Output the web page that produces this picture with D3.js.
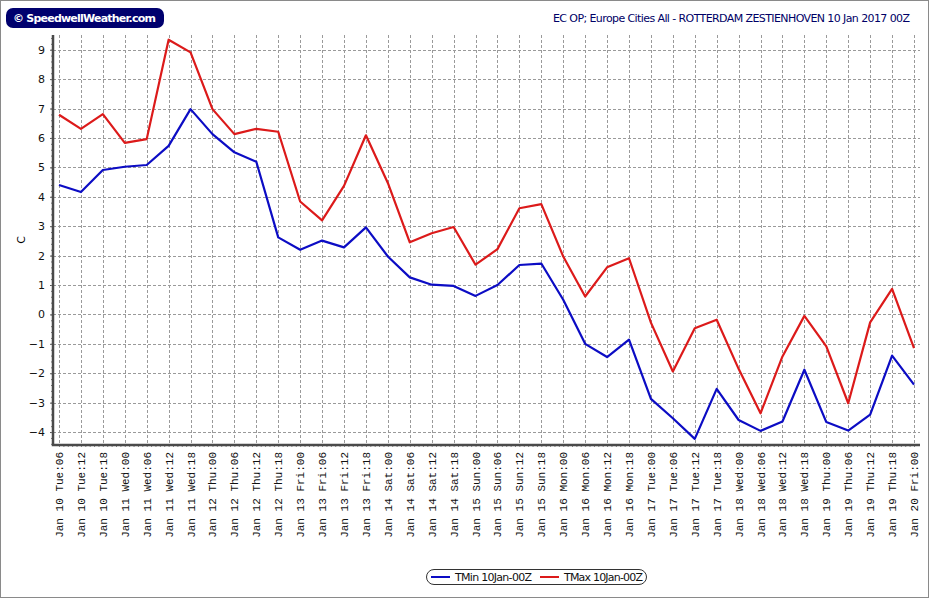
<!DOCTYPE html>
<html>
<head>
<meta charset="utf-8">
<script src="https://cdn.jsdelivr.net/npm/d3@7"></script>
<style>
    body { margin: 0; background: #fff; }
    #chart svg { display: block; }
</style>
</head>
<body>
<div id="chart"></div>
<script>
const times = [
    "Jan 10 Tue:06", "Jan 10 Tue:12", "Jan 10 Tue:18", "Jan 11 Wed:00", "Jan 11 Wed:06",
    "Jan 11 Wed:12", "Jan 11 Wed:18", "Jan 12 Thu:00", "Jan 12 Thu:06", "Jan 12 Thu:12",
    "Jan 12 Thu:18", "Jan 13 Fri:00", "Jan 13 Fri:06", "Jan 13 Fri:12", "Jan 13 Fri:18",
    "Jan 14 Sat:00", "Jan 14 Sat:06", "Jan 14 Sat:12", "Jan 14 Sat:18", "Jan 15 Sun:00",
    "Jan 15 Sun:06", "Jan 15 Sun:12", "Jan 15 Sun:18", "Jan 16 Mon:00", "Jan 16 Mon:06",
    "Jan 16 Mon:12", "Jan 16 Mon:18", "Jan 17 Tue:00", "Jan 17 Tue:06", "Jan 17 Tue:12",
    "Jan 17 Tue:18", "Jan 18 Wed:00", "Jan 18 Wed:06", "Jan 18 Wed:12", "Jan 18 Wed:18",
    "Jan 19 Thu:00", "Jan 19 Thu:06", "Jan 19 Thu:12", "Jan 19 Thu:18", "Jan 20 Fri:00"
];
const tMin = [
    4.40, 4.16, 4.91, 5.02, 5.08, 5.73, 6.98, 6.13, 5.51, 5.19,
    2.62, 2.20, 2.51, 2.28, 2.96, 1.97, 1.26, 1.01, 0.97, 0.63,
    1.00, 1.68, 1.73, 0.50, -1.00, -1.45, -0.86, -2.87, -3.53, -4.23,
    -2.53, -3.59, -3.96, -3.64, -1.88, -3.66, -3.95, -3.41, -1.40, -2.39
];
const tMax = [
    6.79, 6.31, 6.81, 5.83, 5.96, 9.34, 8.91, 6.98, 6.13, 6.31,
    6.21, 3.84, 3.20, 4.37, 6.09, 4.47, 2.45, 2.76, 2.97, 1.69,
    2.22, 3.61, 3.75, 1.97, 0.61, 1.60, 1.91, -0.28, -1.94, -0.47,
    -0.18, -1.85, -3.36, -1.43, -0.05, -1.09, -3.02, -0.27, 0.87, -1.15
];
const yTicks = [9, 8, 7, 6, 5, 4, 3, 2, 1, 0, -1, -2, -3, -4];
const seriesNames = ["TMin 10Jan-00Z", "TMax 10Jan-00Z"];
const titleText = "EC OP; Europe Cities All - ROTTERDAM ZESTIENHOVEN 10 Jan 2017 00Z";
const logoText = "\u00a9 SpeedwellWeather.com";

document.addEventListener("DOMContentLoaded", setup);

function setup() {
    const width = 930;
    const height = 600;
    const plot = { left: 53, right: 920, top: 35, bottom: 445 };
    const colors = ["#0c0cc4", "#dc1a1a"];

    const svg = d3.select("#chart").append("svg")
        .attr("width", width)
        .attr("height", height);

    // outer frame
    svg.append("rect")
        .attr("x", 0.5).attr("y", 0.5)
        .attr("width", width - 2).attr("height", 597)
        .attr("fill", "#fff")
        .attr("stroke", "#8a8a8a");

    const x = d3.scaleLinear()
        .domain([0, times.length - 1])
        .range([59, 914]);
    const y = d3.scaleLinear()
        .domain([-4.44, 9.5])
        .range([plot.bottom, plot.top]);

    // grid
    svg.append("g")
        .selectAll("line")
        .data(times)
        .enter()
        .append("line")
        .attr("x1", (d, i) => Math.round(x(i)) + 0.5)
        .attr("x2", (d, i) => Math.round(x(i)) + 0.5)
        .attr("y1", plot.top)
        .attr("y2", plot.bottom)
        .attr("stroke", "#9a9a9a")
        .attr("stroke-dasharray", "3,2");
    svg.append("g")
        .selectAll("line")
        .data(yTicks)
        .enter()
        .append("line")
        .attr("x1", plot.left)
        .attr("x2", plot.right)
        .attr("y1", d => Math.round(y(d)) + 0.5)
        .attr("y2", d => Math.round(y(d)) + 0.5)
        .attr("stroke", "#9a9a9a")
        .attr("stroke-dasharray", "3,2");

    // series
    const line = d3.line()
        .x((d, i) => x(i))
        .y(d => y(d));
    [tMin, tMax].forEach((s, k) => {
        svg.append("path")
            .datum(s)
            .attr("d", line)
            .attr("fill", "none")
            .attr("stroke", colors[k])
            .attr("stroke-width", 2.2)
            .attr("stroke-linejoin", "round");
    });

    // y axis
    const yAxis = svg.append("g")
        .attr("transform", `translate(${plot.left},0)`)
        .call(d3.axisLeft(y).tickValues(yTicks).tickSize(3).tickPadding(5).tickFormat(d3.format("d")));
    yAxis.select(".domain").remove();
    yAxis.selectAll("line").attr("stroke", "#555");
    yAxis.selectAll("text")
        .attr("font-family", "Tahoma, 'DejaVu Sans', sans-serif")
        .attr("font-size", 11)
        .attr("fill", "#111");
    svg.append("g")
        .attr("transform", `translate(${plot.left},0)`)
        .call(d3.axisLeft(y).ticks(70).tickSize(2).tickFormat(""))
        .call(g => g.select(".domain").remove())
        .selectAll("line").attr("stroke", "#777");

    // x axis
    const xAxis = svg.append("g")
        .attr("transform", `translate(0,${plot.bottom})`)
        .call(d3.axisBottom(x).tickValues(d3.range(0, times.length - 0.9, 0.2)).tickSize(2).tickFormat(""));
    xAxis.select(".domain").remove();
    xAxis.selectAll("line").attr("stroke", "#888");

    svg.append("g")
        .selectAll("text")
        .data(times)
        .enter()
        .append("text")
        .attr("transform", (d, i) => `translate(${x(i) + 4},452) rotate(-90)`)
        .attr("text-anchor", "end")
        .attr("font-family", "'Liberation Mono', 'Courier New', monospace")
        .attr("font-size", 11)
        .attr("fill", "#111")
        .text(d => d);

    // axis lines
    svg.append("path")
        .attr("d", `M${plot.left},${plot.top} V${plot.bottom} H${plot.right}`)
        .attr("fill", "none")
        .attr("stroke", "#4a4a4a")
        .attr("stroke-width", 2.5);

    svg.append("text")
        .attr("transform", "translate(25,240) rotate(-90)")
        .attr("text-anchor", "middle")
        .attr("font-family", "Tahoma, 'DejaVu Sans', sans-serif")
        .attr("font-size", 11)
        .text("C");

    // title + logo
    svg.append("text")
        .attr("x", 910).attr("y", 22)
        .attr("text-anchor", "end")
        .attr("font-family", "Tahoma, 'DejaVu Sans', sans-serif")
        .attr("font-size", 11)
        .attr("textLength", 357)
        .attr("fill", "#000066")
        .text(titleText);
    svg.append("rect")
        .attr("x", 6).attr("y", 8)
        .attr("width", 158).attr("height", 20)
        .attr("rx", 7)
        .attr("fill", "#00006e");
    svg.append("text")
        .attr("x", 13).attr("y", 22)
        .attr("font-family", "Verdana, 'DejaVu Sans', sans-serif")
        .attr("font-weight", "bold")
        .attr("font-size", 11)
        .attr("textLength", 143)
        .attr("fill", "#fff")
        .text(logoText);

    // legend
    const legend = svg.append("g");
    legend.append("rect")
        .attr("x", 426.5).attr("y", 569.5)
        .attr("width", 220).attr("height", 15)
        .attr("rx", 7.5)
        .attr("fill", "#fff")
        .attr("stroke", "#333");
    const lx = [431, 540];
    const tw = [77, 79];
    seriesNames.forEach((n, k) => {
        legend.append("line")
            .attr("x1", lx[k]).attr("x2", lx[k] + 19)
            .attr("y1", 577).attr("y2", 577)
            .attr("stroke", colors[k])
            .attr("stroke-width", 2);
        legend.append("text")
            .attr("x", lx[k] + 24).attr("y", 581)
            .attr("font-family", "Tahoma, 'DejaVu Sans', sans-serif")
            .attr("font-size", 11)
            .attr("textLength", tw[k])
            .attr("fill", "#111")
            .text(n);
    });
}
</script>
</body>
</html>
